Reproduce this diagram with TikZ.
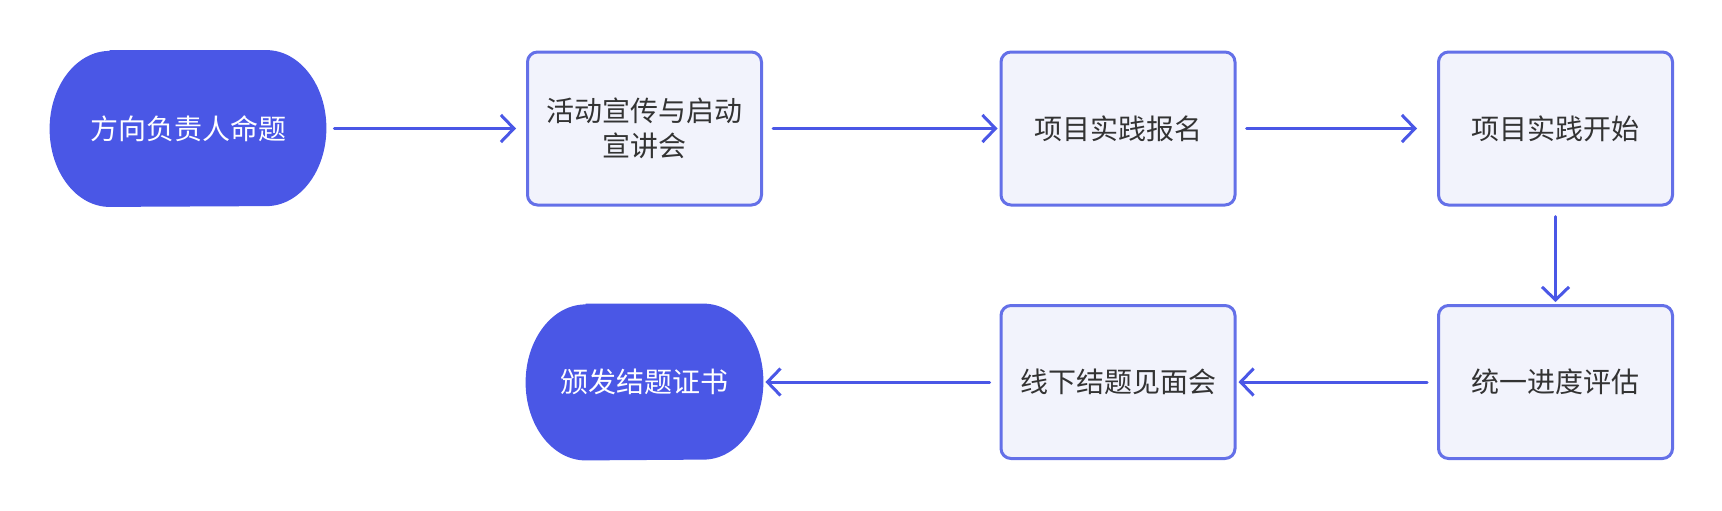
\documentclass[tikz,border=0pt]{standalone}
\usepackage{fontspec}
\setmainfont{Noto Sans CJK SC}
\usetikzlibrary{arrows.meta,backgrounds}

\definecolor{pillblue}{HTML}{4A57E6}
\definecolor{boxedge}{HTML}{6470E8}
\definecolor{boxfill}{HTML}{F2F3FC}
\definecolor{txtgray}{HTML}{333333}

% filled stadium behind a (borderless) node
\newcommand{\pillshape}[1]{%
  \fill[pillblue] ([xshift=30pt]#1.north west) -- ([xshift=-30pt]#1.north east)
    arc[start angle=90, end angle=-90, x radius=30pt, y radius=39pt]
    -- ([xshift=30pt]#1.south west)
    arc[start angle=270, end angle=90, x radius=30pt, y radius=39pt] -- cycle;}

\begin{document}
\begin{tikzpicture}[x=0.5pt, y=-0.5pt,
    stage/.style={draw=boxedge, fill=boxfill, line width=1.5pt, rounded corners=5pt,
      minimum width=117pt, minimum height=76.5pt, inner sep=0pt, align=center,
      text=txtgray, font=\fontsize{14pt}{17.5pt}\selectfont},
    pill/.style={minimum height=78pt, inner sep=0pt, text=white,
      font=\fontsize{14pt}{17.5pt}\selectfont},
    flow/.style={draw=pillblue, line width=1.5pt, line cap=round,
      -{Straight Barb[length=6.5pt, width=13.5pt, line width=1.5pt]}}]
    \useasboundingbox (0, 0) rectangle (1722, 510);
    % first row
    \node[pill, minimum width=138pt] (s1) at (188, 128.5) {方向负责人命题};
    \node[stage] (b2) at (644.5, 128.5) {活动宣传与启动\\宣讲会};
    \node[stage] (b3) at (1118, 128.5) {项目实践报名};
    \node[stage] (b4) at (1555.5, 128.5) {项目实践开始};
    % second row
    \node[stage] (b5) at (1555.5, 382) {统一进度评估};
    \node[stage] (b6) at (1118, 382) {线下结题见面会};
    \node[pill, minimum width=118.5pt] (s2) at (644.5, 382) {颁发结题证书};
    \begin{scope}[on background layer]
        \pillshape{s1}
        \pillshape{s2}
    \end{scope}
    \draw[flow, shorten <=4pt, shorten >=5pt] (s1) -- (b2);
    \draw[flow, shorten <=5pt, shorten >=1pt] (b2) -- (b3);
    \draw[flow, shorten <=5pt, shorten >=10pt] (b3) -- (b4);
    \draw[flow, shorten <=5pt, shorten >=1pt] (b4) -- (b5);
    \draw[flow, shorten <=5pt, shorten >=1pt] (b5) -- (b6);
    \draw[flow, shorten <=5pt, shorten >=1pt] (b6) -- (s2);
\end{tikzpicture}
\end{document}
